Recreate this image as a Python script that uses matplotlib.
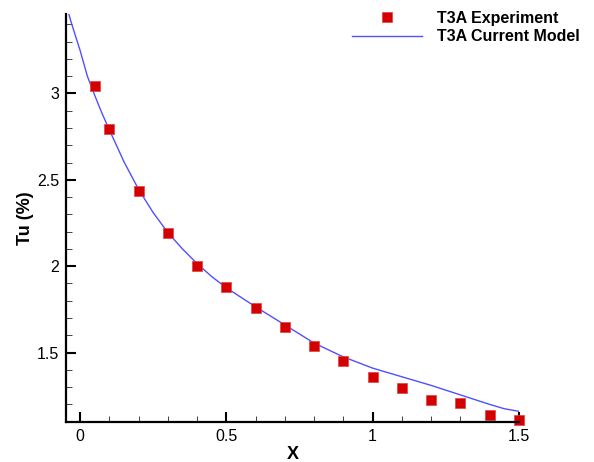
import numpy as np
import matplotlib
matplotlib.use("Agg")
import matplotlib.pyplot as plt
from matplotlib.ticker import MultipleLocator, FormatStrFormatter

plt.rcParams["font.family"] = ["Liberation Sans", "DejaVu Sans"]

# experiment points (T3A)
exp_x = [0.05, 0.1, 0.2, 0.3, 0.4, 0.5, 0.6, 0.7, 0.8, 0.9, 1.0, 1.1, 1.2, 1.3, 1.4, 1.5]
exp_tu = [3.046, 2.794, 2.434, 2.195, 2.0, 1.880, 1.759, 1.647, 1.539, 1.452,
          1.361, 1.296, 1.228, 1.207, 1.140, 1.107]

# model curve
mod_x = [-0.045, -0.03, -0.015, 0.0, 0.025, 0.05, 0.075, 0.1, 0.15, 0.2, 0.25,
         0.3, 0.35, 0.4, 0.45, 0.5, 0.6, 0.7, 0.8, 0.9, 1.0, 1.1, 1.2, 1.3,
         1.4, 1.45, 1.5]
mod_tu = [3.50, 3.41, 3.33, 3.25, 3.10, 2.99, 2.885, 2.79, 2.605, 2.445, 2.31,
          2.195, 2.10, 2.015, 1.94, 1.875, 1.765, 1.66, 1.555, 1.475, 1.41, 1.36,
          1.31, 1.255, 1.20, 1.175, 1.16]

fig = plt.figure(figsize=(5.94, 4.62), dpi=100)
ax = fig.add_axes([66 / 594, 1 - 421.7 / 462, (519 - 66) / 594, (421.7 - 14) / 462])

ax.plot(mod_x, mod_tu, color="#5050ff", lw=1.0, label="T3A Current Model", zorder=2)
ax.plot(exp_x, exp_tu, ls="none", marker="s", ms=7.5, mfc="#d40000", mec="#e04040",
        mew=0.5, label="T3A Experiment", clip_on=False, zorder=3)

ax.set_xlim(-0.048, 1.5)
ax.set_ylim(1.1, 3.46)

for side in ("top", "right"):
    ax.spines[side].set_visible(False)
for side in ("left", "bottom"):
    ax.spines[side].set_linewidth(1.6)
    ax.spines[side].set_zorder(4)

ax.xaxis.set_major_locator(MultipleLocator(0.5))
ax.xaxis.set_minor_locator(MultipleLocator(0.1))
ax.yaxis.set_major_locator(MultipleLocator(0.5))
ax.yaxis.set_minor_locator(MultipleLocator(0.1))
ax.xaxis.set_major_formatter(FormatStrFormatter("%g"))
ax.yaxis.set_major_formatter(FormatStrFormatter("%g"))

ax.tick_params(which="major", direction="in", length=7.5, width=1.5, labelsize=11.5, pad=5)
ax.tick_params(which="minor", direction="in", length=4, width=0.7, color="#444444")

ax.set_xlabel("X", fontsize=13, fontweight="bold", labelpad=2)
ax.set_ylabel("Tu (%)", fontsize=13, fontweight="bold", labelpad=2)

handles, labels = ax.get_legend_handles_labels()
leg = fig.legend(handles[::-1], labels[::-1], loc="upper left",
                 bbox_to_anchor=(352 / 594, 1 - 11 / 462), frameon=False,
                 prop={"weight": "bold", "size": 11.5}, handlelength=4.4,
                 handletextpad=0.9, labelspacing=0.2, borderpad=0,
                 borderaxespad=0)

fig.savefig("out.png", dpi=100)
